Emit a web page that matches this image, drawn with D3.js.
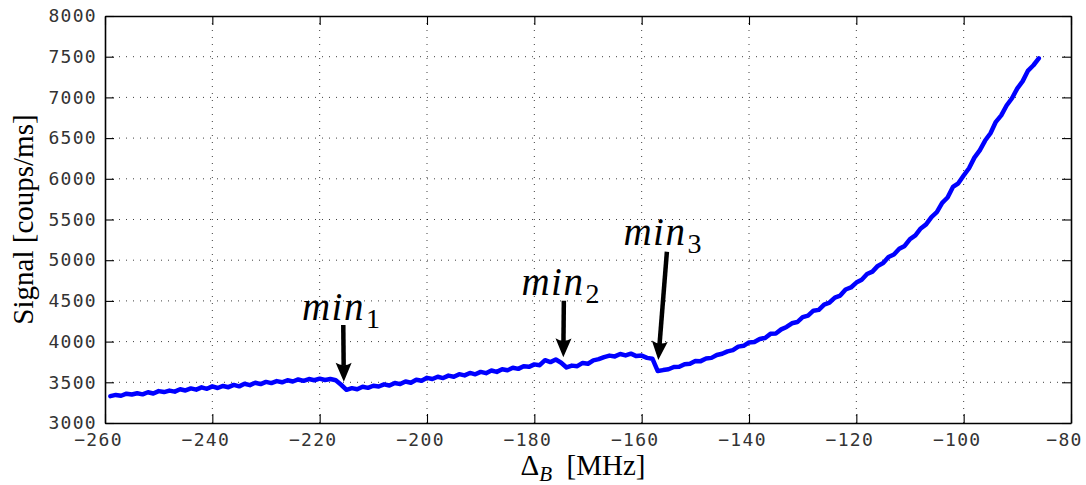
<!DOCTYPE html>
<html>
<head>
<meta charset="utf-8">
<script src="https://cdn.jsdelivr.net/npm/d3@7"></script>
<style>
  body { margin: 0; background: #fff; }
</style>
</head>
<body>
<script>
// detuning grid, 1 MHz per sample
var detuning = d3.range(-259, -85, 1);
// signal [coups/ms]
var signal = [3330,
  3345,3335,3360,3350,3365,3352,3378,3362,3392,3380,
  3398,3385,3415,3400,3425,3410,3438,3420,3450,3430,
  3455,3440,3468,3450,3482,3465,3495,3478,3505,3490,
  3515,3500,3525,3510,3535,3518,3540,3525,3545,3528,
  3540,3525,3470,3408,3428,3415,3445,3432,3458,3448,
  3475,3460,3492,3478,3510,3495,3532,3520,3555,3540,
  3568,3552,3582,3568,3600,3585,3615,3598,3628,3612,
  3645,3628,3660,3648,3678,3665,3698,3690,3720,3710,
  3772,3748,3780,3740,3682,3705,3698,3738,3728,3770,
  3785,3810,3828,3818,3848,3830,3852,3822,3828,3800,
  3790,3638,3650,3660,3688,3690,3722,3728,3762,3760,
  3792,3800,3835,3850,3880,3895,3938,3948,3990,3995,
  4032,4045,4095,4100,4150,4180,4225,4240,4300,4320,
  4380,4390,4455,4480,4540,4565,4640,4665,4725,4760,
  4830,4860,4930,4965,5040,5070,5140,5175,5260,5305,
  5390,5440,5530,5590,5705,5770,5900,5945,6040,6130,
  6260,6350,6470,6560,6700,6780,6900,6990,7110,7200,
  7330,7395,7480];

var xTicks = d3.range(-260, -79, 20);
var yTicks = d3.range(3000, 8001, 500);

// annotations: label subscript, text start, arrow start, arrow tip (data units)
var minSubs = ["1", "2", "3"];
var labelAt = [[-223.3, 4265], [-182.4, 4572], [-163.4, 5187]];
var arrowFrom = [[-215.6, 4204], [-174.5, 4502], [-155.3, 5104]];
var arrowTo = [[-215.5, 3507], [-174.6, 3807], [-156.9, 3774]];

var svgWidth = 1086;
var svgHeight = 485;
var margin = {top: 16, right: 15, bottom: 62, left: 105};
var width = svgWidth - margin.left - margin.right;
var height = svgHeight - margin.top - margin.bottom;

var svg = d3.select("body").append("svg")
  .attr("width", svgWidth)
  .attr("height", svgHeight);

var chart = svg.append("g")
  .attr("transform", "translate(" + margin.left + "," + margin.top + ")");

var x = d3.scaleLinear().domain([-260, -80]).range([0, width]);
var y = d3.scaleLinear().domain([3000, 8000]).range([height, 0]);

// dotted grid
chart.append("g").selectAll("line")
  .data(xTicks.slice(1, -1))
  .enter().append("line")
  .attr("x1", d => x(d)).attr("x2", d => x(d))
  .attr("y1", 0).attr("y2", height)
  .attr("stroke", "#000").attr("stroke-width", 1)
  .attr("stroke-dasharray", "1,6").attr("opacity", 0.75);

chart.append("g").selectAll("line")
  .data(yTicks.slice(1, -1))
  .enter().append("line")
  .attr("x1", 0).attr("x2", width)
  .attr("y1", d => y(d)).attr("y2", d => y(d))
  .attr("stroke", "#000").attr("stroke-width", 1)
  .attr("stroke-dasharray", "1,6").attr("opacity", 0.75);

// axes (matlab style: ticks inward on all four sides)
var tickFont = "'DejaVu Sans Mono', monospace";

var bottomAxis = chart.append("g")
  .attr("transform", "translate(0," + height + ")")
  .call(d3.axisBottom(x).tickValues(xTicks).tickSize(-9).tickPadding(10).tickSizeOuter(0));
var leftAxis = chart.append("g")
  .call(d3.axisLeft(y).tickValues(yTicks).tickSize(-9).tickPadding(8).tickSizeOuter(0).tickFormat(d3.format("d")));
var topAxis = chart.append("g")
  .call(d3.axisTop(x).tickValues(xTicks).tickSize(-9).tickFormat("").tickSizeOuter(0));
var rightAxis = chart.append("g")
  .attr("transform", "translate(" + width + ",0)")
  .call(d3.axisRight(y).tickValues(yTicks).tickSize(-9).tickFormat("").tickSizeOuter(0));

[bottomAxis, leftAxis, topAxis, rightAxis].forEach(function(a) {
  a.select(".domain").attr("stroke", "#000").attr("stroke-width", 1.6);
  a.selectAll(".tick line").attr("stroke", "#000").attr("stroke-width", 1.1);
  a.selectAll("text")
    .style("font-family", tickFont)
    .style("font-size", "18px")
    .style("letter-spacing", "1.3px")
    .attr("fill", "#333");
});
// matlab centres the labels a little left of the tick
bottomAxis.selectAll(".tick text").attr("dx", -7);

// data line
var line = d3.line()
  .x((d, i) => x(detuning[i]))
  .y(d => y(d));

chart.append("path")
  .datum(signal)
  .attr("d", line)
  .attr("fill", "none")
  .attr("stroke", "#0000ff")
  .attr("stroke-width", 4.5)
  .attr("stroke-linejoin", "round")
  .attr("stroke-linecap", "round");

// arrows + labels
var serif = "'Liberation Serif', 'DejaVu Serif', serif";
minSubs.forEach(function(sub, i) {
  var x0 = x(arrowFrom[i][0]), y0 = y(arrowFrom[i][1]);
  var x1 = x(arrowTo[i][0]), y1 = y(arrowTo[i][1]);
  var ang = Math.atan2(y1 - y0, x1 - x0);
  var headLen = 19, headW = 8;
  var bx = x1 - headLen * Math.cos(ang), by = y1 - headLen * Math.sin(ang);
  var nx = -Math.sin(ang), ny = Math.cos(ang);

  chart.append("line")
    .attr("x1", x0).attr("y1", y0)
    .attr("x2", bx + 3 * Math.cos(ang)).attr("y2", by + 3 * Math.sin(ang))
    .attr("stroke", "#000").attr("stroke-width", 4.5);

  chart.append("path")
    .attr("d", "M" + x1 + "," + y1 +
      "L" + (bx + nx * headW) + "," + (by + ny * headW) +
      "Q" + (bx + 5 * Math.cos(ang)) + "," + (by + 5 * Math.sin(ang)) + " " +
      (bx - nx * headW) + "," + (by - ny * headW) + "Z")
    .attr("fill", "#000");

  var t = chart.append("text")
    .attr("x", x(labelAt[i][0]))
    .attr("y", y(labelAt[i][1]))
    .style("font-family", serif)
    .style("font-size", "39px")
    .attr("fill", "#000");
  t.append("tspan").style("font-style", "italic").style("letter-spacing", "1.5px").text("min");
  t.append("tspan").attr("dy", 8).attr("dx", 1).style("font-size", "28px").text(sub);
});

// axis titles
var xl = svg.append("text")
  .attr("x", margin.left + width / 2 - 5)
  .attr("y", 475)
  .attr("text-anchor", "middle")
  .style("font-family", serif)
  .style("font-size", "29px")
  .attr("fill", "#000");
xl.append("tspan").text("\u0394");
xl.append("tspan").attr("dy", 6).style("font-size", "21px").style("font-style", "italic").text("B");
xl.append("tspan").attr("dy", -6).text("\u00a0\u00a0[MHz]");

svg.append("text")
  .attr("transform", "translate(33," + (margin.top + height / 2) + ") rotate(-90)")
  .attr("text-anchor", "middle")
  .style("font-family", serif)
  .style("font-size", "29px")
  .attr("fill", "#000")
  .text("Signal [coups/ms]");
</script>
</body>
</html>
